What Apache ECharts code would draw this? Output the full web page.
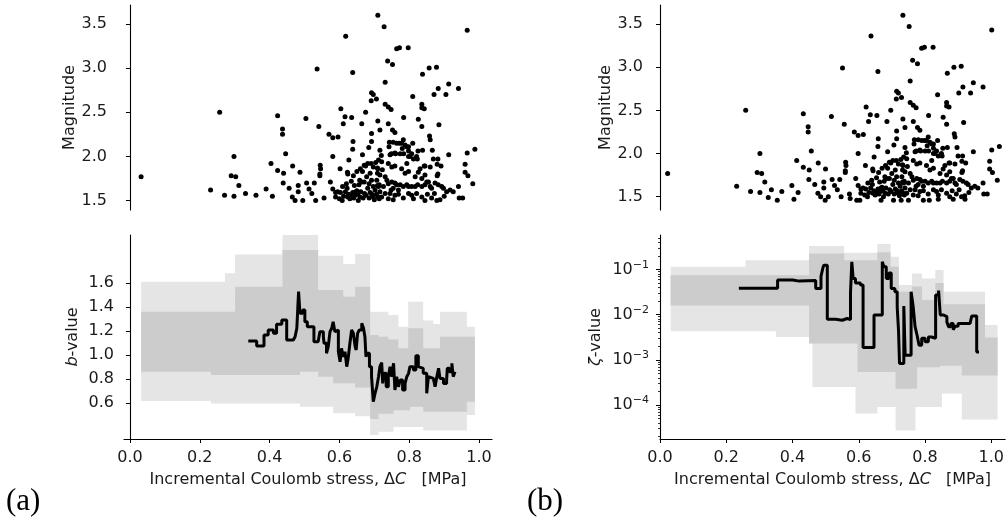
<!DOCTYPE html>
<html><head><meta charset="utf-8">
<script src="https://cdn.jsdelivr.net/npm/echarts@6/dist/echarts.min.js"></script>
<style>html,body{margin:0;padding:0;background:#fff}#c{width:1007px;height:520px}</style>
</head><body><div id="c"></div>
<script>
// ---- scatter: [incremental Coulomb stress (MPa), magnitude] ----
const events = [
[0.032,1.77],[0.231,1.62],[0.257,2.50],[0.271,1.56],[0.290,1.78],[0.298,2.00],[0.298,1.55],[0.303,1.77],[0.312,1.67],[0.331,1.58],
[0.361,1.56],[0.390,1.63],[0.404,1.92],[0.408,1.55],[0.423,2.46],[0.423,1.84],[0.437,2.31],[0.437,2.25],[0.446,2.03],[0.440,1.81],
[0.439,1.70],[0.456,1.64],[0.466,1.89],[0.465,1.54],[0.473,1.50],[0.482,1.67],[0.487,1.82],[0.482,1.60],[0.495,1.50],[0.504,2.43],
[0.506,1.70],[0.513,1.63],[0.521,1.58],[0.528,1.70],[0.532,1.50],[0.536,2.99],[0.541,2.34],[0.545,1.90],[0.546,1.86],[0.544,1.80],
[0.544,1.78],[0.556,1.53],[0.570,2.25],[0.574,1.71],[0.581,2.21],[0.596,2.22],[0.581,2.00],[0.581,1.63],[0.589,1.59],[0.589,1.54],
[0.602,1.86],[0.604,2.54],[0.603,1.59],[0.608,1.50],[0.609,1.66],[0.611,2.37],[0.616,2.45],[0.618,3.36],[0.623,1.82],[0.624,1.80],
[0.627,1.96],[0.622,1.64],[0.635,2.44],[0.638,2.95],[0.639,2.17],[0.638,2.08],[0.638,1.59],[0.634,1.72],
[0.624,1.54],[0.630,1.52],[0.645,1.56],[0.650,1.61],[0.659,1.54],[0.654,1.50],[0.668,1.53],[0.672,1.58],[0.681,1.64],[0.688,1.59],
[0.697,1.54],[0.702,1.62],[0.712,1.66],[0.714,1.52],[0.650,1.83],[0.666,1.83],[0.656,1.68],[0.664,1.71],[0.666,2.02],[0.681,1.92],
[0.691,1.92],[0.697,1.88],[0.704,1.93],[0.688,1.81],[0.678,1.77],[0.692,1.73],[0.709,1.81],
[0.664,2.37],[0.675,2.50],[0.675,1.89],[0.684,2.10],[0.691,2.63],[0.692,2.72],[0.697,2.70],[0.706,2.65],[0.692,2.26],[0.692,2.17],
[0.709,1.87],[0.709,1.67],[0.716,2.07],[0.720,2.01],
[0.595,1.60],[0.600,1.52],[0.612,1.55],[0.617,1.60],[0.626,1.57],[0.633,1.55],[0.641,1.53],[0.647,1.60],[0.652,1.57],[0.661,1.60],
[0.676,1.56],[0.685,1.53],[0.693,1.57],[0.700,1.51],[0.706,1.57],[0.711,1.54],[0.620,1.69],[0.643,1.67],[0.658,1.73],[0.671,1.71],
[0.685,1.69],[0.697,1.66],[0.640,1.78],[0.660,1.86],[0.671,1.90],
[0.710,3.60],[0.728,3.47],[0.764,3.22],[0.772,3.23],[0.797,3.23],[0.738,3.08],[0.752,3.04],[0.731,2.84],[0.731,2.59],[0.740,2.56],
[0.748,2.53],[0.710,2.40],[0.716,2.30],[0.740,2.37],[0.752,2.30],[0.759,2.27],[0.764,2.15],[0.772,2.15],[0.743,2.16],[0.754,2.16],
[0.749,2.03],[0.761,2.03],[0.742,2.11],[0.784,2.44],[0.783,2.19],[0.778,2.15],[0.784,2.03],[0.793,2.11],[0.798,2.11],[0.798,2.06],
[0.798,2.00],[0.810,2.68],[0.807,2.03],[0.810,2.15],[0.826,2.42],[0.825,2.06],[0.823,1.97],[0.826,1.82],[0.836,2.34],[0.836,2.59],
[0.836,2.55],[0.843,2.54],[0.838,2.93],[0.838,2.07],[0.843,1.89],[0.857,3.00],[0.858,2.23],[0.860,2.19],[0.866,2.07],[0.869,1.97],
[0.871,2.70],[0.878,3.01],[0.883,2.77],[0.885,2.36],[0.882,1.97],[0.880,1.91],[0.882,1.80],[0.880,1.78],[0.891,1.89],[0.905,2.70],
[0.913,2.82],[0.913,2.02],[0.917,1.62],[0.941,2.77],[0.941,1.66],[0.943,1.53],[0.953,1.53],[0.960,1.91],[0.960,1.82],[0.968,1.78],
[0.966,3.43],[0.966,2.04],[0.982,1.69],[0.988,2.08],
[0.712,1.96],[0.721,1.94],[0.710,1.86],[0.723,1.85],[0.716,1.79],[0.731,1.77],[0.707,1.73],[0.736,1.73],[0.714,1.68],[0.726,1.66],
[0.740,1.69],[0.750,1.71],[0.759,1.70],[0.764,1.68],[0.748,1.62],[0.754,1.64],[0.769,1.62],[0.716,1.60],[0.731,1.58],[0.745,1.58],
[0.759,1.56],[0.721,1.54],[0.740,1.52],[0.754,1.51],[0.774,1.68],[0.783,1.66],[0.793,1.68],[0.798,1.66],[0.807,1.66],[0.817,1.66],
[0.824,1.68],[0.836,1.66],[0.845,1.68],[0.850,1.71],[0.860,1.66],[0.864,1.64],[0.874,1.70],[0.883,1.68],[0.893,1.66],[0.898,1.64],
[0.907,1.60],[0.926,1.60],[0.798,1.58],[0.807,1.56],[0.821,1.58],[0.836,1.54],[0.845,1.50],[0.864,1.53],[0.879,1.50],[0.888,1.51],
[0.788,1.81],[0.798,1.83],[0.778,1.86],[0.793,1.92],[0.759,1.89],[0.750,1.88],[0.740,1.92],[0.745,2.02],[0.759,2.04],[0.774,2.03],
[0.780,2.09],[0.788,2.13],[0.802,2.00],[0.812,1.97],[0.821,2.00],[0.831,1.86],[0.845,1.89],[0.860,1.88],[0.817,1.77],[0.836,1.75],
[0.845,1.79],[0.855,1.71],[0.769,1.57],[0.783,1.53],[0.812,1.52],[0.852,1.57],[0.872,1.58],[0.900,1.55]
];
// extra low-magnitude events shown only in panel (b)
const eventsLow = [
[0.322,1.49],[0.348,1.46],[0.396,1.47],[0.486,1.46],[0.558,1.48],[0.577,1.46],[0.586,1.46],[0.647,1.46],
[0.683,1.46],[0.705,1.46],[0.726,1.46],[0.769,1.46],[0.786,1.46],[0.812,1.47],[0.855,1.47],[0.889,1.47]
];

// ---- b-value (step line) ----
const bLine = [
[0.339,1.118],[0.363,1.076],[0.384,1.168],[0.396,1.210],[0.411,1.182],[0.420,1.257],[0.435,1.293],[0.449,1.126],[0.468,1.112],[0.473,1.154],
[0.478,1.224],[0.483,1.530],[0.487,1.349],[0.495,1.377],[0.501,1.279],[0.508,1.238],[0.520,1.238],[0.527,1.112],[0.539,1.099],[0.544,1.196],
[0.554,1.154],[0.556,1.099],[0.563,1.015],[0.568,1.071],[0.573,1.196],[0.578,1.224],[0.582,1.279],[0.587,1.196],[0.592,1.210],[0.597,1.029],
[0.602,0.945],[0.606,1.057],[0.611,0.987],[0.616,1.029],[0.621,0.904],[0.625,0.973],[0.630,1.099],[0.635,1.210],[0.640,1.182],[0.645,1.071],
[0.648,1.043],[0.652,1.182],[0.657,1.210],[0.664,1.266],[0.669,1.224],[0.673,1.154],[0.676,0.987],[0.680,1.015],[0.686,0.904],[0.692,0.820],
[0.697,0.611],[0.702,0.681],[0.707,0.736],[0.712,0.820],[0.716,0.904],[0.721,0.937],[0.724,0.764],[0.728,0.848],[0.734,0.736],[0.740,0.820],
[0.745,0.904],[0.750,0.820],[0.755,0.932],[0.759,0.709],[0.764,0.820],[0.769,0.736],[0.774,0.792],[0.781,0.709],[0.788,0.764],[0.793,0.820],
[0.798,0.848],[0.802,0.904],[0.812,0.876],[0.819,0.995],[0.826,0.904],[0.831,0.890],[0.840,0.848],[0.850,0.681],[0.855,0.820],[0.860,0.806],
[0.869,0.820],[0.874,0.736],[0.879,0.820],[0.884,0.890],[0.888,0.806],[0.898,0.764],[0.907,0.792],[0.909,0.890],[0.915,0.862],[0.922,0.932],
[0.926,0.820],[0.931,0.862]
];
// bands: [x where segment starts, value]; last entry = end x
const bOuterUpper = [[0.032,1.613],[0.272,1.683],[0.301,1.84],[0.437,2.10],[0.539,1.83],[0.611,1.76],[0.645,1.845],[0.688,1.363],[0.740,1.335],[0.769,1.237],[0.797,1.446],[0.840,1.29],[0.869,1.26],[0.888,1.363],[0.965,1.237],[0.988,null]];
const bOuterLower = [[0.032,0.617],[0.232,0.597],[0.487,0.57],[0.582,0.514],[0.645,0.49],[0.688,0.333],[0.712,0.36],[0.755,0.40],[0.840,0.37],[0.965,0.50],[0.988,null]];
const bInnerUpper = [[0.032,1.363],[0.301,1.572],[0.437,1.878],[0.539,1.544],[0.611,1.488],[0.645,1.572],[0.688,1.168],[0.712,1.154],[0.740,1.13],[0.769,1.057],[0.797,1.224],[0.840,1.057],[0.888,1.154],[0.988,null]];
const bInnerLower = [[0.032,0.862],[0.232,0.834],[0.487,0.862],[0.539,0.82],[0.582,0.765],[0.645,0.73],[0.688,0.466],[0.712,0.51],[0.755,0.54],[0.802,0.569],[0.840,0.527],[0.965,0.611],[0.988,null]];

// ---- zeta-value (step line, log scale) ----
const zLine = [
[0.238,0.0385],[0.355,0.058],[0.400,0.055],[0.420,0.057],[0.470,0.038],[0.486,0.070],[0.492,0.110],[0.495,0.124],[0.505,0.0079],[0.530,0.0075],
[0.550,0.0082],[0.565,0.0078],[0.575,0.030],[0.579,0.147],[0.583,0.063],[0.590,0.050],[0.605,0.045],[0.613,0.00188],[0.646,0.0098],[0.671,0.147],
[0.676,0.115],[0.683,0.063],[0.691,0.083],[0.698,0.038],[0.709,0.032],[0.716,0.0148],[0.720,0.0045],[0.723,0.00083],[0.736,0.0155],[0.740,0.00127],
[0.758,0.032],[0.764,0.0155],[0.770,0.0054],[0.776,0.0035],[0.782,0.0021],[0.790,0.0030],[0.800,0.0025],[0.810,0.0032],[0.820,0.0030],[0.832,0.027],
[0.841,0.034],[0.846,0.0098],[0.856,0.0090],[0.866,0.0069],[0.871,0.0054],[0.878,0.0064],[0.885,0.0046],[0.891,0.0055],[0.900,0.0064],[0.920,0.0064],
[0.936,0.0058],[0.941,0.0093],[0.956,0.0015],[0.963,0.0015]
];
const zOuterUpper = [[0.032,0.114],[0.258,0.160],[0.450,0.327],[0.556,0.233],[0.656,0.363],[0.696,0.19],[0.721,0.045],[0.761,0.081],[0.791,0.063],[0.831,0.097],[0.856,0.032],[0.981,0.0059],[1.019,null]];
const zOuterLower = [[0.032,0.0043],[0.350,0.0032],[0.460,0.00025],[0.590,0.000065],[0.656,0.000091],[0.711,0.0000275],[0.771,0.000091],[0.851,0.00018],[0.911,0.000048],[1.019,null]];
const zInnerUpper = [[0.032,0.0746],[0.450,0.225],[0.556,0.160],[0.656,0.24],[0.696,0.115],[0.721,0.032],[0.761,0.042],[0.791,0.021],[0.831,0.050],[0.856,0.017],[0.981,0.0031],[1.019,null]];
const zInnerLower = [[0.032,0.0158],[0.450,0.0023],[0.596,0.00054],[0.711,0.00023],[0.776,0.00069],[0.846,0.00074],[0.911,0.00045],[1.019,null]];

// ---- tick labels ----
const magTicks = [1.5, 2.0, 2.5, 3.0, 3.5];
const bTicks = [0.6, 0.8, 1.0, 1.2, 1.4, 1.6];
const stressTicks = [0.0, 0.2, 0.4, 0.6, 0.8, 1.0];
const zetaDecades = [-4, -3, -2, -1];

// ---------------------------------------------------------------
const FONT = 'DejaVu Sans';
const FS = 16;
const TXT = '#1a1a1a';
const LIGHT = '#e5e5e5', DARK = '#cccccc';
const lg = v => Math.log10(v);
const toLog = arr => arr.map(p => [p[0], p[1] == null ? null : lg(p[1])]);

function bandSeries(xi, yi, upper, lower, color) {
  return {
    type: 'custom', xAxisIndex: xi, yAxisIndex: yi, silent: true, z: 1,
    data: [[upper[0][0], upper[0][1]]],
    renderItem: function (params, api) {
      const pts = [];
      for (let i = 0; i < upper.length - 1; i++) {
        pts.push(api.coord([upper[i][0], upper[i][1]]));
        pts.push(api.coord([upper[i + 1][0], upper[i][1]]));
      }
      for (let i = lower.length - 2; i >= 0; i--) {
        pts.push(api.coord([lower[i + 1][0], lower[i][1]]));
        pts.push(api.coord([lower[i][0], lower[i][1]]));
      }
      const cs = params.coordSys;
      return { type: 'polygon', shape: { points: pts }, style: { fill: color },
        clipPath: { type: 'rect', shape: { x: cs.x, y: cs.y, width: cs.width, height: cs.height } } };
    }
  };
}

const axisLineStyle = { show: true, lineStyle: { color: '#000', width: 1.1 } };
const tickStyle = { show: true, length: 4, lineStyle: { color: '#000', width: 1 } };
const labelBase = { color: TXT, fontFamily: FONT, fontSize: FS };
const richItalic = { i: { fontStyle: 'italic', fontFamily: FONT, fontSize: FS, color: TXT } };

function hiddenX(grid, min, max) {
  return { type: 'value', gridIndex: grid, min, max, show: false, splitLine: { show: false } };
}
function stressAxis(grid, min, max) {
  return {
    type: 'value', gridIndex: grid, min, max, splitLine: { show: false },
    axisLine: axisLineStyle,
    axisTick: Object.assign({}, tickStyle, { customValues: stressTicks }),
    axisLabel: Object.assign({}, labelBase, { customValues: stressTicks, margin: 11, formatter: v => v.toFixed(1) }),
    name: 'Incremental Coulomb stress, Δ{i|C}   [MPa]',
    nameLocation: 'middle', nameGap: 33,
    nameTextStyle: Object.assign({}, labelBase, { rich: richItalic })
  };
}
function yAxisLin(grid, min, max, ticks, name, gap, margin, dec) {
  return {
    type: 'value', gridIndex: grid, min, max, splitLine: { show: false },
    axisLine: axisLineStyle,
    axisTick: Object.assign({}, tickStyle, { customValues: ticks }),
    axisLabel: Object.assign({}, labelBase, { customValues: ticks, margin: margin, formatter: v => v.toFixed(dec) }),
    name: name, nameLocation: 'middle', nameGap: gap, nameRotate: 90,
    nameTextStyle: Object.assign({}, labelBase, { rich: richItalic })
  };
}

const zMin = -4.75, zMax = -0.24;
const minorTicks = [];
for (let d = -5; d <= -1; d++) for (let k = 2; k <= 9; k++) {
  const v = lg(k) + d; if (v > zMin && v < zMax) minorTicks.push(v);
}

const option = {
  animation: false,
  backgroundColor: '#fff',
  grid: [
    { left: 124, top: 5, width: 368, height: 205 },
    { left: 660, top: 5, width: 347, height: 205 },
    { left: 124, top: 235, width: 368, height: 204 },
    { left: 660, top: 235, width: 347, height: 204 }
  ],
  xAxis: [
    hiddenX(0, -0.017, 1.037),
    hiddenX(1, 0.01, 1.01),
    stressAxis(2, -0.017, 1.037),
    stressAxis(3, 0, 1.042)
  ],
  yAxis: [
    yAxisLin(0, 1.393, 3.715, magTicks, 'Magnitude', 38, 17, 1),
    yAxisLin(1, 1.346, 3.72, magTicks, 'Magnitude', 41, 17, 1),
    yAxisLin(2, 0.30, 2.003, bTicks, '{i|b}-value', 43, 10, 1),
    {
      type: 'value', gridIndex: 3, min: zMin, max: zMax, position: 'left', splitLine: { show: false },
      axisLine: axisLineStyle,
      axisTick: Object.assign({}, tickStyle, { customValues: zetaDecades }),
      axisLabel: Object.assign({}, labelBase, {
        customValues: zetaDecades, margin: 11,
        formatter: v => '10{s|−' + Math.round(-v) + '}',
        rich: { s: { fontSize: 11, fontFamily: FONT, color: TXT, verticalAlign: 'bottom', padding: [0, 0, 9, 0] } }
      }),
      name: '{i|ζ}-value', nameLocation: 'middle', nameGap: 56, nameRotate: 90,
      nameTextStyle: Object.assign({}, labelBase, { rich: richItalic })
    },
    {
      type: 'value', gridIndex: 3, min: zMin, max: zMax, position: 'left', offset: 0, splitLine: { show: false },
      axisLine: { show: false },
      axisTick: { show: true, length: 2, lineStyle: { color: '#000', width: 0.8 }, customValues: minorTicks },
      axisLabel: { show: false }
    }
  ],
  series: [
    { type: 'scatter', xAxisIndex: 0, yAxisIndex: 0, data: events, symbolSize: 5,
      itemStyle: { color: '#000', opacity: 1 }, silent: true },
    { type: 'scatter', xAxisIndex: 1, yAxisIndex: 1, data: events.concat(eventsLow), symbolSize: 5,
      itemStyle: { color: '#000', opacity: 1 }, silent: true },
    bandSeries(2, 2, bOuterUpper, bOuterLower, LIGHT),
    bandSeries(2, 2, bInnerUpper, bInnerLower, DARK),
    { type: 'line', xAxisIndex: 2, yAxisIndex: 2, data: bLine, step: 'end', showSymbol: false,
      lineStyle: { color: '#000', width: 3 }, z: 5, silent: true },
    bandSeries(3, 3, toLog(zOuterUpper), toLog(zOuterLower), LIGHT),
    bandSeries(3, 3, toLog(zInnerUpper), toLog(zInnerLower), DARK),
    { type: 'line', xAxisIndex: 3, yAxisIndex: 3, data: toLog(zLine), step: 'end', showSymbol: false,
      lineStyle: { color: '#000', width: 3 }, z: 5, silent: true }
  ],
  graphic: [
    { type: 'text', left: 6, top: 486, style: { text: '(a)', font: '31px "Liberation Serif"', fill: '#000' } },
    { type: 'text', left: 527, top: 486, style: { text: '(b)', font: '31px "Liberation Serif"', fill: '#000' } }
  ]
};

const chart = echarts.init(document.getElementById('c'), null, { renderer: 'canvas' });
chart.setOption(option);
</script>
</body></html>
